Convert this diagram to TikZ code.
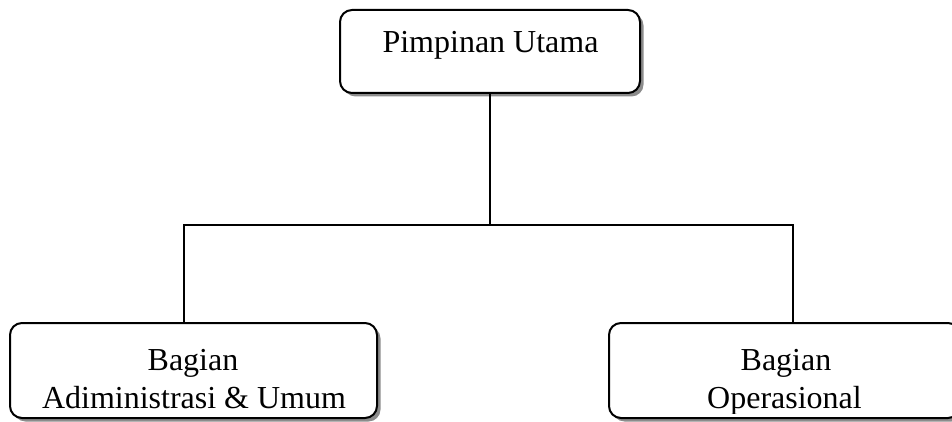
\documentclass[tikz,border=0pt]{standalone}
\usepackage{fontspec}
\setmainfont{Liberation Serif}
\begin{document}
\begin{tikzpicture}[x=1pt,y=1pt,
  box/.style={draw=black, line width=2pt, rounded corners=12pt, fill=white, inner sep=0pt,
    preaction={fill=black!45, transform canvas={shift={(3.5pt,-3.5pt)}}}},
  lbl/.style={anchor=base, inner sep=0pt, font=\fontsize{32}{38}\selectfont},
  conn/.style={draw=black, line width=1.9pt}]
\useasboundingbox (0,0) rectangle (952,421);
\fill[white] (0,0) rectangle (952,421);
% boxes
\node[box, minimum width=300pt, minimum height=83pt] (top) at (490,369.5) {};
\node[box, minimum width=367pt, minimum height=95pt] (left) at (193.5,50.5) {};
\node[box, minimum width=351pt, minimum height=95pt] (right) at (784.5,50.5) {};
% texts
\node[lbl] (ttop) at (490.5,368) {Pimpinan Utama};
\node[lbl] (tl1) at (193,51) {Bagian};
\node[lbl] (tl2) at (194,13) {Adiministrasi \& Umum};
\node[lbl] (tr1) at (786,51) {Bagian};
\begin{scope}
\clip (600,8) rectangle (952,60);
\node[lbl] (tr2) at (784.5,13) {Operasional};
\end{scope}
% connectors
\coordinate (hub) at (490,196);
\coordinate (hl) at (184,196);
\coordinate (hr) at (793,196);
\draw[conn] (top.south) -- (hub);
\draw[conn, line join=miter] (left.north -| hl) -- (hl) -- (hr) -- (right.north -| hr);
\end{tikzpicture}
\end{document}
